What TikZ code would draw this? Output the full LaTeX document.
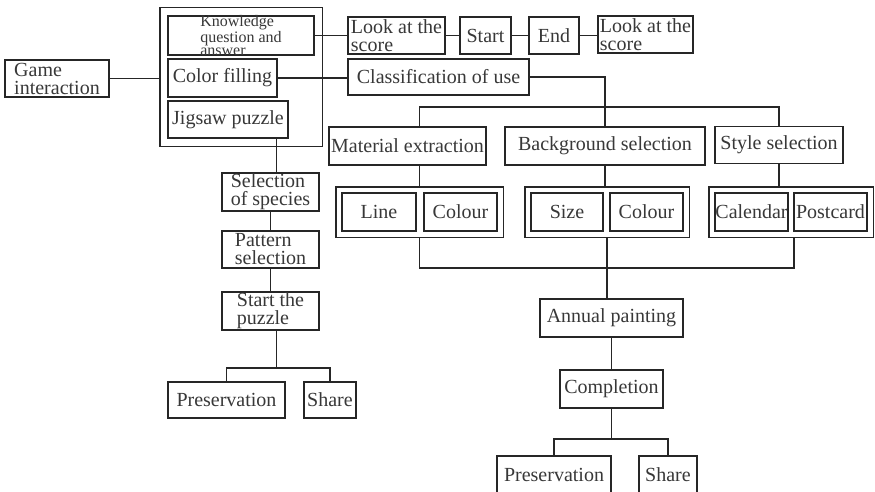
\documentclass[tikz,border=0pt]{standalone}
\usepackage{fontspec}
\setmainfont{Liberation Serif}
\usepackage{tikz}
\usetikzlibrary{positioning,fit}
\definecolor{Edge}{HTML}{262626}
\definecolor{Ink}{HTML}{383838}

\begin{document}
\begin{tikzpicture}[x=1pt,y=-1pt,
  box/.style={draw=Edge,line width=1.5pt,text=Ink,inner sep=0pt,align=left,font=\fontsize{20}{18}\selectfont},
  group/.style={draw=Edge,line width=1.5pt,inner sep=5.5pt},
  wire/.style={draw=Edge,line width=1.5pt}]
\path[use as bounding box,fill=white] (0,0) rectangle (875,491);
\clip (0,0) rectangle (875,491);
% game menu on the left
\node[box,minimum width=104pt,minimum height=37pt] (game) at (57,78.5) {Game\\interaction};
\node[box,font=\fontsize{16}{12.5}\selectfont,minimum width=146pt,minimum height=37pt] (know) at (241,35.5) {Knowledge\\question and\\answer};
\node[box,minimum width=109pt,minimum height=38pt] (color) at (222.5,78) {Color filling};
\node[box,minimum width=120pt,minimum height=37pt] (jigsaw) at (228,119.5) {Jigsaw puzzle};
\node[group,inner sep=7.5pt,fit=(know)(color)(jigsaw)] (games) {};
% quiz row
\node[box,minimum width=97pt,minimum height=37pt] (look1) at (396.5,35.5) {Look at the\\score};
\node[box,minimum width=51pt,minimum height=37pt] (start) at (485.5,35.5) {Start};
\node[box,minimum width=50pt,minimum height=37pt] (endn) at (554,35.5) {End};
\node[box,minimum width=95pt,minimum height=37pt] (look2) at (645.5,34.5) {Look at the\\score};
% colour filling branch
\node[box,minimum width=181pt,minimum height=36pt] (classif) at (438.5,77) {Classification of use};
\node[box,minimum width=157pt,minimum height=38pt] (material) at (407.5,146) {Material extraction};
\node[box,minimum width=200pt,minimum height=38pt] (background) at (605,146) {Background selection};
\node[box,minimum width=128pt,minimum height=37pt] (style) at (779,145) {Style selection};
\node[box,minimum width=74pt,minimum height=38pt] (line) at (379,212) {Line};
\node[box,minimum width=73pt,minimum height=38pt] (colour1) at (460.5,212) {Colour};
\node[box,minimum width=72pt,minimum height=38pt] (size) at (567,212) {Size};
\node[box,minimum width=73pt,minimum height=38pt] (colour2) at (646.5,212) {Colour};
\node[box,minimum width=73pt,minimum height=38pt] (calendar) at (751.5,212) {Calendar};
\node[box,minimum width=73pt,minimum height=38pt] (postcard) at (830.5,212) {Postcard};
\node[group,fit=(line)(colour1)] (grp1) {};
\node[group,fit=(size)(colour2)] (grp2) {};
\node[group,fit=(calendar)(postcard)] (grp3) {};
\node[box,minimum width=143pt,minimum height=38pt] (annual) at (611.5,318) {Annual painting};
\node[box,minimum width=103pt,minimum height=38pt] (completion) at (611.5,389) {Completion};
\node[box,minimum width=114pt,minimum height=38pt] (pres2) at (554,475) {Preservation};
\node[box,minimum width=58pt,minimum height=38pt] (share2) at (668,475) {Share};
% jigsaw branch
\node[box,minimum width=97pt,minimum height=38pt] (species) at (270.5,192) {Selection\\of species};
\node[box,minimum width=97pt,minimum height=37pt] (pattern) at (270.5,249.5) {Pattern\\selection};
\node[box,minimum width=97pt,minimum height=38pt] (puzzle) at (270.5,311) {Start the\\puzzle};
\node[box,minimum width=117pt,minimum height=36pt] (pres1) at (226.5,400) {Preservation};
\node[box,minimum width=52pt,minimum height=36pt] (share1) at (330,400) {Share};
% connectors
\coordinate (bus) at (605,107);
\coordinate (join) at (606,268);
\coordinate (fork) at (611.5,439);
\coordinate (fork1) at (276.5,368);
\draw[wire] (game.east) -- (game.east -| games.west);
\draw[wire] (know.east) -- (look1.west);
\draw[wire] (look1.east) -- (start.west);
\draw[wire] (start.east) -- (endn.west);
\draw[wire] (endn.east) -- (endn.east -| look2.west);
\draw[wire] (color.east) -- (color.east -| classif.west);
\draw[wire] (classif.east) -| (background.north);
\draw[wire] (material.north -| grp1.north) |- (bus) -| (style.north);
\draw[wire] (material.south -| grp1.north) -- (grp1.north);
\draw[wire] (background.south) -- (background.south |- grp2.north);
\draw[wire] (style.south) -- (style.south |- grp3.north);
\draw[wire] (grp1.south) |- (join) -| ([xshift=3pt]grp3.south);
\draw[wire] (grp2.south) -- (grp2.south |- annual.north);
\draw[wire] (annual) -- (completion);
\draw[wire] (completion.south) -- (fork);
\draw[wire] (pres2.north) |- (fork) -| (share2.north);
\draw[wire] ([xshift=6pt]species.north) -- ([xshift=6pt]species.north |- jigsaw.south);
\draw[wire] (species) -- (pattern);
\draw[wire] (pattern) -- (puzzle);
\draw[wire] (puzzle.south -| fork1) -- (fork1);
\draw[wire] (pres1.north) |- (fork1) -| (share1.north);
\end{tikzpicture}
\end{document}
